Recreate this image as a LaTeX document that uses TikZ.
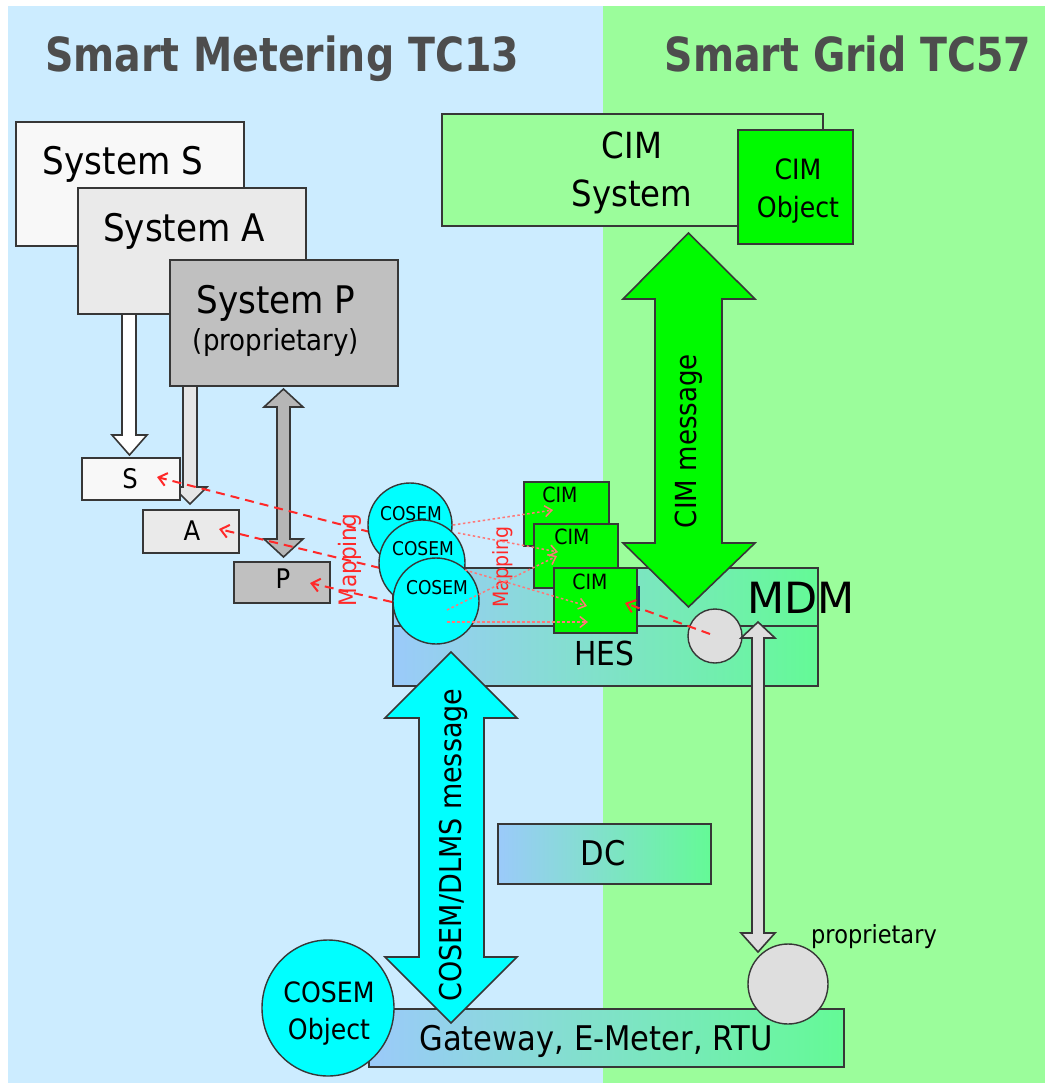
\documentclass[tikz,border=0pt]{standalone}
\usepackage{fontspec}
\setmainfont{DejaVu Sans}[FakeStretch=0.9]
\newfontfamily\titlefont{DejaVu Sans}[FakeStretch=0.84]
\newfontfamily\plainfont{DejaVu Sans}
\usetikzlibrary{arrows.meta,shapes.geometric}
\definecolor{bgblue}{RGB}{204,236,255}
\definecolor{bggreen}{RGB}{155,253,155}
\definecolor{titlegray}{RGB}{77,77,77}
\definecolor{edge}{RGB}{55,55,55}
\definecolor{sysS}{RGB}{248,248,248}
\definecolor{sysA}{RGB}{234,234,234}
\definecolor{sysP}{RGB}{192,192,192}
\definecolor{arrP}{RGB}{182,182,182}
\definecolor{arrA}{RGB}{230,230,230}
\definecolor{cimgreen}{RGB}{0,250,0}
\definecolor{cosemcyan}{RGB}{0,255,255}
\definecolor{gradL}{RGB}{155,202,250}
\definecolor{gradR}{RGB}{100,250,150}
\definecolor{mapred}{RGB}{255,40,40}
\definecolor{dotred}{RGB}{255,120,120}
\definecolor{circgray}{RGB}{222,222,222}
\definecolor{navybar}{RGB}{30,30,100}
\newcommand{\fsz}[1]{\fontsize{#1}{#1}\selectfont}
\tikzset{
  box/.style={draw=edge, line width=1.6pt, inner sep=0pt, anchor=north west},
  gradbox/.style={box, left color=gradL, right color=gradR},
  lbl/.style={inner sep=0pt, anchor=base, text=black},
  blockarrow/.style={draw=edge, line width=1.6pt, line join=miter},
  roundobj/.style={draw=edge, line width=1.4pt, circle, inner sep=0pt},
  mapline/.style={draw=mapred, line width=2pt, dash pattern=on 9pt off 6pt,
     -{Straight Barb[length=8pt,width=13pt,line width=2pt]}},
  dotline/.style={draw=dotred, line width=1.5pt, dash pattern=on 2.5pt off 2.5pt,
     -{Straight Barb[length=7pt,width=11pt,line width=1.5pt]}},
}
\begin{document}
\begin{tikzpicture}[x=1pt,y=-1pt]
\useasboundingbox (0,0) rectangle (1045,1086);
% background
\fill[white] (0,0) rectangle (1045,1086);
\fill[bgblue] (8,6) rectangle (603,1083);
\fill[bggreen] (603,6) rectangle (1045,1083);
% titles
\node[lbl, text=titlegray, font=\titlefont\bfseries\fsz{47}] (t1) at (282,72) {Smart Metering TC13};
\node[lbl, text=titlegray, font=\titlefont\bfseries\fsz{47}] (t2) at (848,72) {Smart Grid TC57};

% CIM system and object
\node[box, fill=bggreen, minimum width=381pt, minimum height=112pt] (cimsys) at (441,113) {};
\node[lbl, font=\fsz{36}] (cimsysA) at (632,159) {CIM};
\node[lbl, font=\fsz{36}] (cimsysB) at (632,207) {System};
\node[box, fill=cimgreen, minimum width=115pt, minimum height=114pt] (cimobj) at (737,129) {};
\node[lbl, font=\fsz{28}] (cimobjA) at (798,180) {CIM};
\node[lbl, font=\fsz{28}] (cimobjB) at (798,217) {Object};

% Systems and their arrows
\node[box, fill=sysS, minimum width=228pt, minimum height=124pt] (sysS) at (15,121) {};
\node[lbl, font=\fsz{38}] (sysSt) at (123,175) {System S};
\draw[blockarrow, fill=white] (122,240) -- (122,435) -- (112,435) -- (129.5,455) -- (147,435) -- (136,435) -- (136,240) -- cycle;
\node[box, fill=sysA, minimum width=228pt, minimum height=126pt] (sysA) at (77,187) {};
\node[lbl, font=\fsz{38}] (sysAt) at (184,241) {System A};
\draw[blockarrow, fill=arrA] (183,300) -- (183,487) -- (173,487) -- (190,504) -- (207,487) -- (197,487) -- (197,300) -- cycle;
\node[box, fill=sysP, minimum width=228pt, minimum height=126pt] (sysP) at (169,259) {};
\node[lbl, font=\fsz{38}] (sysPt) at (276,313) {System P};
\node[lbl, font=\fsz{29}] (sysPt2) at (276,350) {(proprietary)};
\draw[blockarrow, fill=arrP] (283.5,389) -- (303,407) -- (290,407) -- (290,539) -- (303,539) -- (283.5,557) -- (264,539) -- (277,539) -- (277,407) -- (264,407) -- cycle;

% small boxes
\node[box, fill=sysS, minimum width=98pt, minimum height=42pt] (bS) at (81,457) {};
\node[lbl, font=\fsz{27}] at (130,488) {S};
\node[box, fill=sysA, minimum width=96pt, minimum height=43pt] (bA) at (142,509) {};
\node[lbl, font=\fsz{27}] at (192,540) {A};
\node[box, fill=sysP, minimum width=96pt, minimum height=41pt] (bP) at (233,561) {};
\node[lbl, font=\fsz{27}] at (283,588) {P};

% HES / MDM box
\node[gradbox, minimum width=425pt, minimum height=58pt] (mdm) at (392,567) {};
\node[gradbox, minimum width=425pt, minimum height=60pt] (hes) at (392,625) {};
\node[lbl, font=\fsz{33}] (hest) at (604,665) {HES};
\fill[navybar] (634,586) rectangle (640,611);

% mapping lines
\coordinate (mS) at (157,477);
\coordinate (mA) at (219,529);
\coordinate (mP) at (310,583);
\coordinate (c1w) at (370,532);
\coordinate (c2w) at (380,568);
\coordinate (c3w) at (392,602);
\draw[mapline] (c1w) -- (mS);
\draw[mapline] (c2w) -- (mA);
\draw[mapline] (c3w) -- (mP);
\node[lbl, anchor=center, rotate=90, text=mapred, font=\fsz{24}] (map1) at (350,560) {Mapping};

% COSEM circles
\node[roundobj, fill=cosemcyan, minimum size=84pt] (c1) at (410,525) {};
\node[lbl, font=\fsz{19}] at (411,520) {COSEM};
\node[roundobj, fill=cosemcyan, minimum size=86pt] (c2) at (422,563) {};
\node[lbl, font=\fsz{19}] at (423,555) {COSEM};
\node[roundobj, fill=cosemcyan, minimum size=86pt] (c3) at (436,601) {};
\node[lbl, font=\fsz{19}] at (437,594) {COSEM};

% CIM small boxes
\node[box, fill=cimgreen, minimum width=85pt, minimum height=64pt] (cim1) at (523,481) {};
\node[lbl, font=\fsz{21}] at (560,502) {CIM};
\node[box, fill=cimgreen, minimum width=84pt, minimum height=64pt] (cim2) at (533,523) {};
\node[lbl, font=\fsz{21}] at (572,544) {CIM};
\node[box, fill=cimgreen, minimum width=83pt, minimum height=65pt] (cim3) at (553,567) {};
\node[lbl, font=\fsz{21}] at (590,589) {CIM};
\node[lbl, anchor=center, rotate=90, text=mapred, font=\fsz{21}] (map2) at (503,567) {Mapping};

% CIM message arrow
\draw[blockarrow, fill=cimgreen] (688.5,233) -- (755,299) -- (722,299) -- (722,543) -- (755,543) -- (688.5,607) -- (623,543) -- (655,543) -- (655,299) -- (623,299) -- cycle;
\node[lbl, anchor=center, rotate=90, font=\fsz{29}] (cimmsg) at (689,441) {CIM message};

% MDM circle
\node[roundobj, fill=circgray, minimum size=54pt] (mc) at (715,636) {};

% dotted mapping arrows
\coordinate (d1s) at (453,525); \coordinate (d1e) at (553,510);
\coordinate (d2s) at (458,533); \coordinate (d2e) at (558,552);
\coordinate (d3s) at (465,570); \coordinate (d3e) at (587,606);
\coordinate (d4s) at (447,610); \coordinate (d4e) at (557,556);
\coordinate (d5s) at (447,622); \coordinate (d5e) at (588,622);
\draw[dotline] (d1s) -- (d1e);
\draw[dotline] (d2s) -- (d2e);
\draw[dotline] (d3s) -- (d3e);
\draw[dotline] (d4s) -- (d4e);
\draw[dotline] (d5s) -- (d5e);
\coordinate (mcs) at (710,634); \coordinate (mce) at (625,603);
\draw[mapline] (mcs) -- (mce);
\node[lbl, font=\plainfont\fsz{43}] (mdmt) at (801,613) {MDM};

% DC
\node[gradbox, minimum width=213pt, minimum height=60pt] (dc) at (497,823) {};
\node[lbl, font=\fsz{34}] at (603,865) {DC};

% Gateway box
\node[gradbox, minimum width=475pt, minimum height=58pt] (gw) at (368,1008) {};
% COSEM/DLMS arrow
\draw[blockarrow, fill=cosemcyan] (451,652) -- (517,718) -- (484,718) -- (484,957) -- (517,957) -- (451,1023) -- (385,957) -- (419,957) -- (419,718) -- (385,718) -- cycle;
\node[lbl, anchor=center, rotate=90, font=\fsz{30}] (cosmsg) at (453,845) {COSEM/DLMS message};
\node[lbl, font=\fsz{34}] (gwt) at (596,1050) {Gateway, E-Meter, RTU};

% COSEM object
\node[roundobj, fill=cosemcyan, ellipse, minimum width=132pt, minimum height=136pt] (cobj) at (328,1008) {};
\node[lbl, font=\fsz{28}] at (329,1002) {COSEM};
\node[lbl, font=\fsz{28}] at (329,1039) {Object};

% gray arrow MDM <-> device
\draw[blockarrow, fill=circgray] (758,622) -- (775,638) -- (764,638) -- (764,933) -- (775,933) -- (758,952) -- (741,933) -- (752,933) -- (752,638) -- (741,638) -- cycle;
\node[roundobj, fill=circgray, minimum size=80pt] (pc) at (788,984) {};
\node[lbl, font=\fsz{25}] (propt) at (874,943) {proprietary};
\end{tikzpicture}
\end{document}
